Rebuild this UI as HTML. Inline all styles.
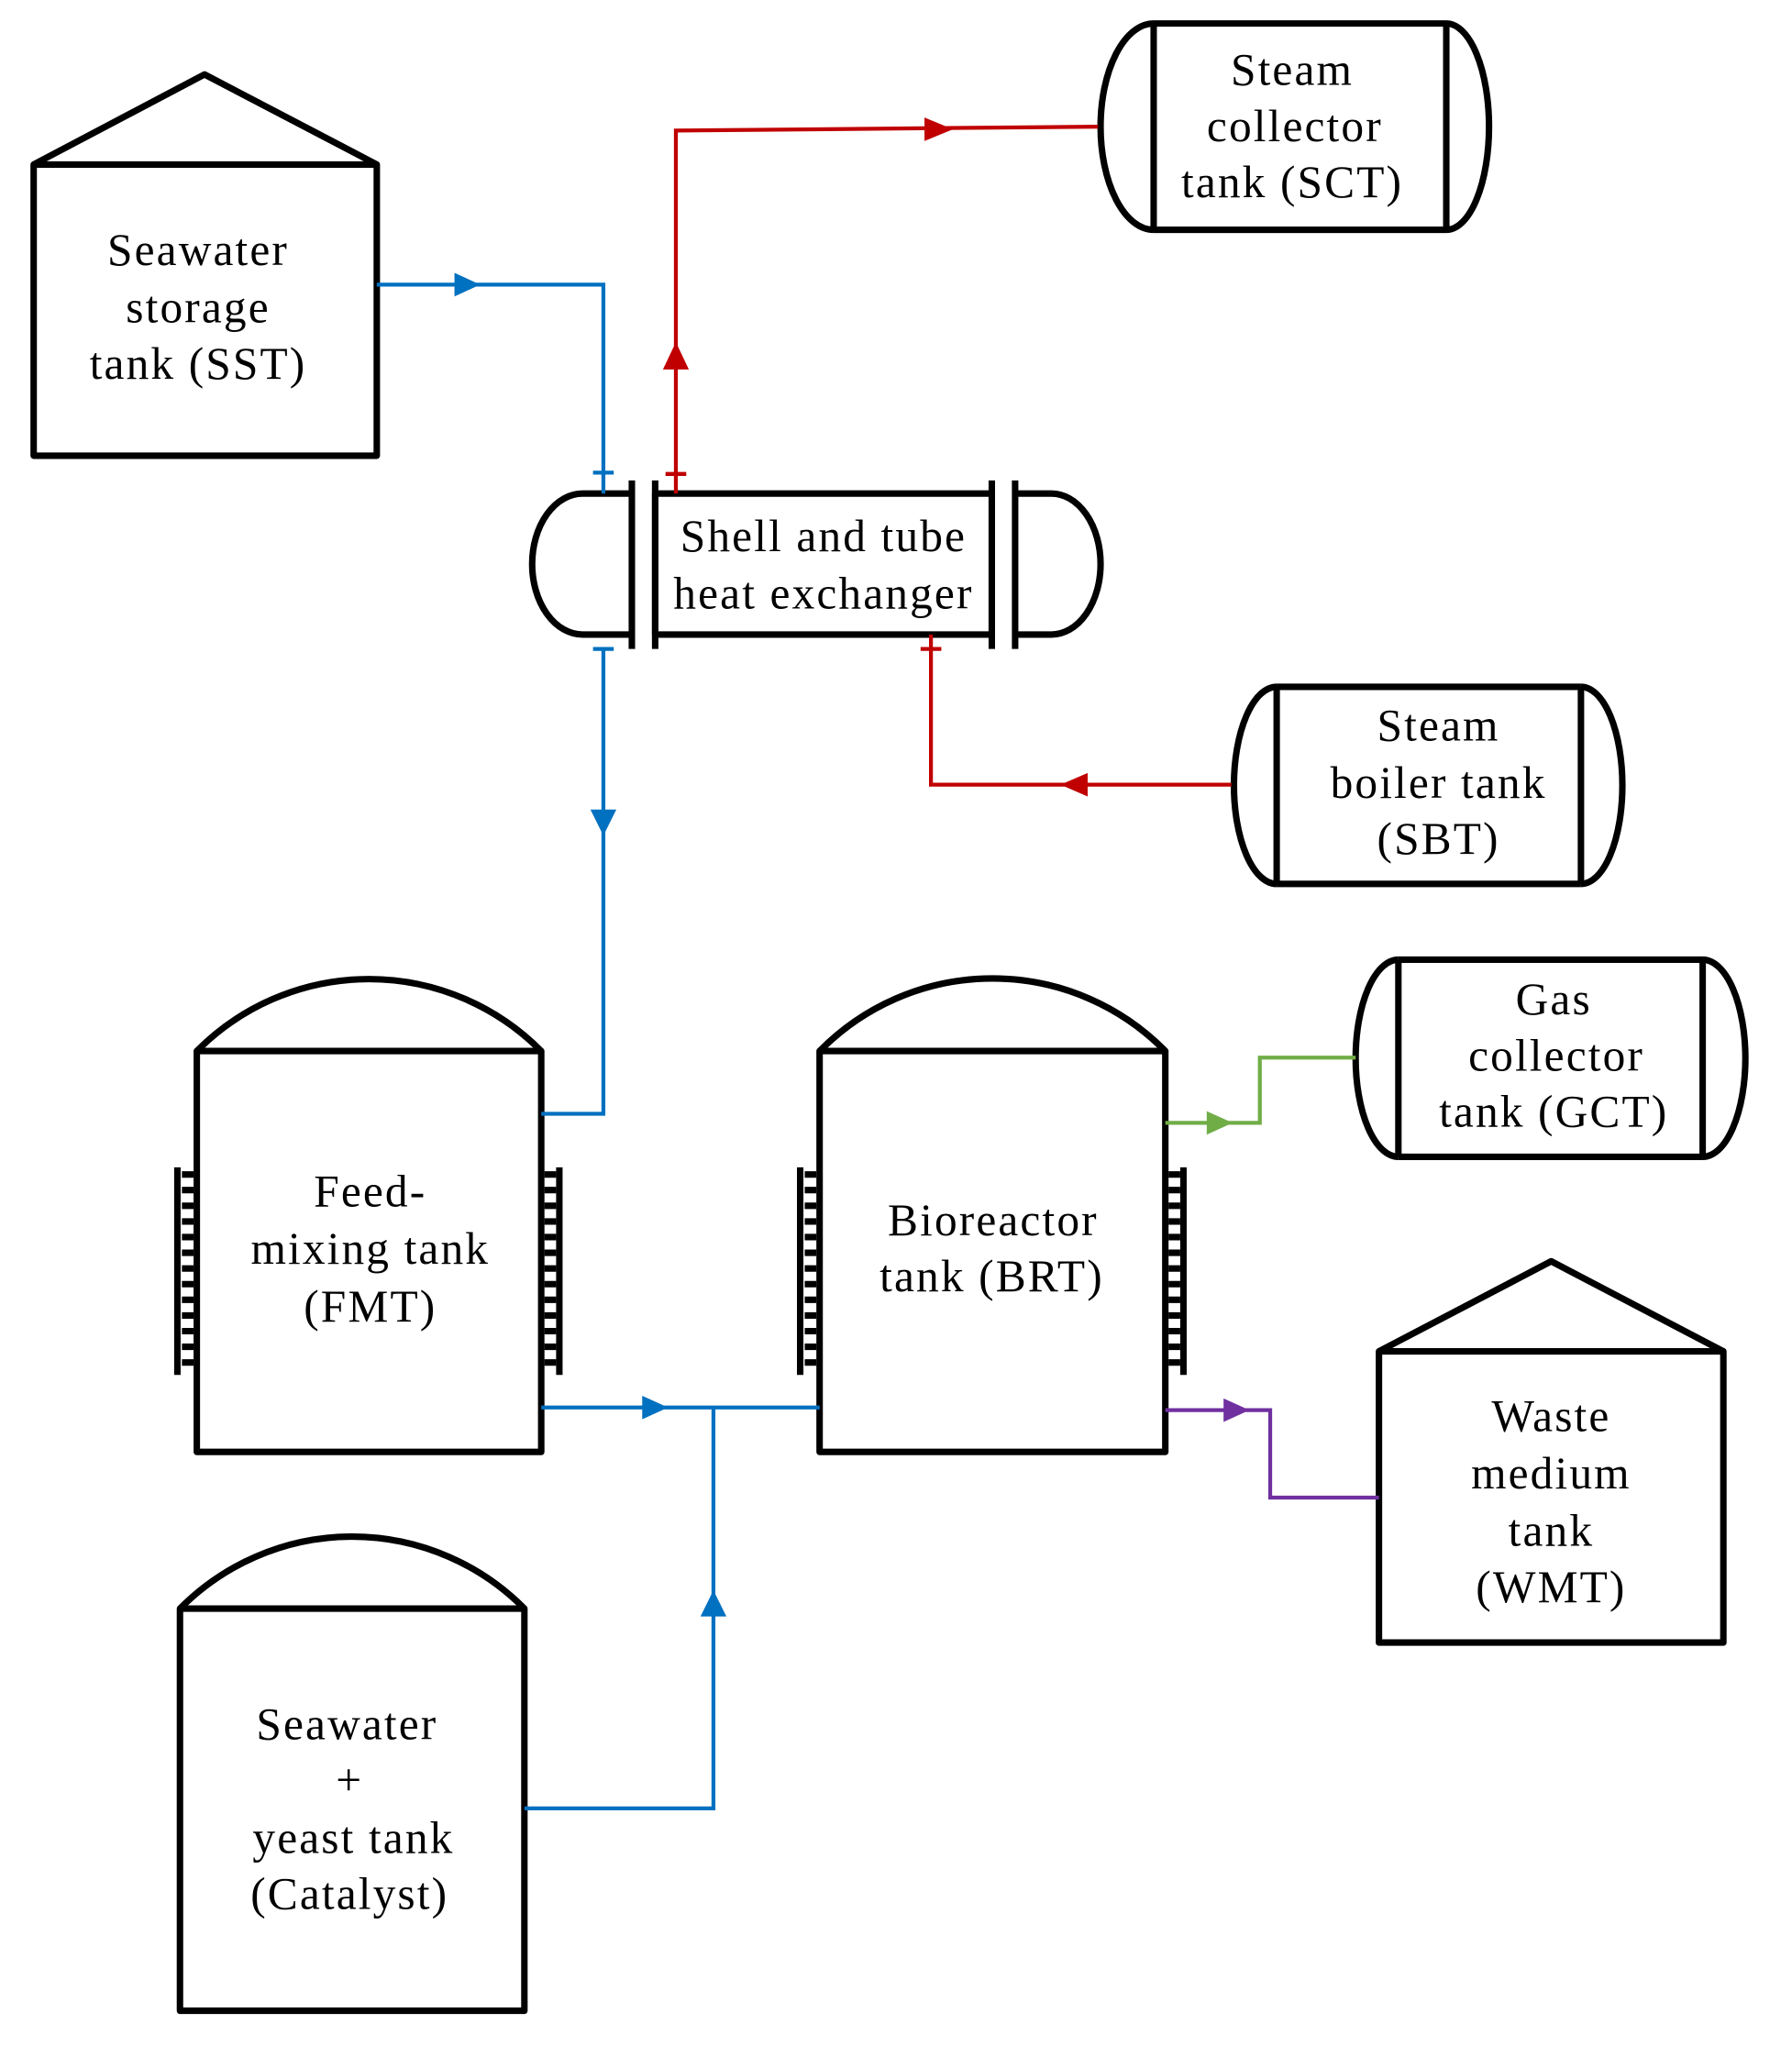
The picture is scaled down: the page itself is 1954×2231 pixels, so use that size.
<!DOCTYPE html>
<html><head><meta charset="utf-8"><style>html,body{margin:0;padding:0;background:#fff}svg{display:block}</style></head><body>
<svg width="1954" height="2231" viewBox="0 0 1384 1567" preserveAspectRatio="none" xmlns="http://www.w3.org/2000/svg">
<g fill="none" stroke="#000" stroke-width="5" stroke-linejoin="round">
<rect x="26" y="126" width="265" height="223"/>
<path d="M26,126 L158,57 L291,126"/>
<path d="M488,378 L450,378 A39,54 0 0 0 450,486 L488,486"/>
<path d="M784,378 L812,378 A38,54 0 0 1 812,486 L784,486"/>
<rect x="506" y="378" width="260" height="108"/>
<line x1="488" y1="368" x2="488" y2="497"/><line x1="506" y1="368" x2="506" y2="497"/>
<line x1="766" y1="368" x2="766" y2="497"/><line x1="784" y1="368" x2="784" y2="497"/>
<path d="M891,18 L1117,18 M891,176 L1117,176"/>
<path d="M891,18 A41,79 0 0 0 891,176"/><path d="M1117,18 A33,79 0 0 1 1117,176"/>
<line x1="891" y1="18" x2="891" y2="176"/><line x1="1117" y1="18" x2="1117" y2="176"/>
<path d="M986,526 L1221,526 M986,677 L1221,677"/>
<path d="M986,526 A33,75.5 0 0 0 986,677"/><path d="M1221,526 A32,75.5 0 0 1 1221,677"/>
<line x1="986" y1="526" x2="986" y2="677"/><line x1="1221" y1="526" x2="1221" y2="677"/>
<path d="M1080,735 L1315,735 M1080,886 L1315,886"/>
<path d="M1080,735 A33,75.5 0 0 0 1080,886"/><path d="M1315,735 A33,75.5 0 0 1 1315,886"/>
<line x1="1080" y1="735" x2="1080" y2="886"/><line x1="1315" y1="735" x2="1315" y2="886"/>
<rect x="152" y="805" width="266" height="307"/>
<path d="M152,805 A188,188 0 0 1 418,805"/>
<rect x="633" y="805" width="267" height="307"/>
<path d="M633,805 A188,188 0 0 1 900,805"/>
<rect x="139" y="1232" width="266" height="308"/>
<path d="M139,1232 A188,188 0 0 1 405,1232"/>
<rect x="1065" y="1035" width="266" height="223"/>
<path d="M1065,1035 L1198,966 L1331,1035"/>
</g>
<g stroke="#000">
<line x1="137" y1="894" x2="137" y2="1053" stroke-width="5"/>
<line x1="432" y1="894" x2="432" y2="1053" stroke-width="5"/>
<line x1="618" y1="894" x2="618" y2="1053" stroke-width="5"/>
<line x1="914" y1="894" x2="914" y2="1053" stroke-width="5"/>
<g stroke-width="9" stroke-dasharray="5,7">
<line x1="145" y1="897" x2="145" y2="1050"/><line x1="425" y1="897" x2="425" y2="1050"/>
<line x1="626" y1="897" x2="626" y2="1050"/><line x1="907" y1="897" x2="907" y2="1050"/>
</g></g>
<g fill="none" stroke-width="3">
<path d="M291,218 L466,218 L466,378 M466,497 L466,853 L418,853 M418,1078 L633,1078 M405,1385 L551,1385 L551,1078" stroke="#0070c0"/>
<path d="M458,362 L474,362 M458,497 L474,497" stroke="#0070c0"/>
<path d="M522,378 L522,100 L848,97 M951,601 L719,601 L719,486" stroke="#c00000"/>
<path d="M514,363 L530,363 M711,497 L727,497" stroke="#c00000"/>
<path d="M900,860 L973,860 L973,810 L1047,810" stroke="#70ad47"/>
<path d="M900,1080 L981,1080 L981,1147 L1065,1147" stroke="#7030a0"/>
</g>
<g>
<path d="M351,209 L371,218 L351,227Z" fill="#0070c0"/>
<path d="M456,620 L466,640 L476,620Z" fill="#0070c0"/>
<path d="M496,1069 L516,1078 L496,1087Z" fill="#0070c0"/>
<path d="M541,1238 L551,1218 L561,1238Z" fill="#0070c0"/>
<path d="M512,283 L522,262 L532,283Z" fill="#c00000"/>
<path d="M714,90 L736,99 L714,108Z" fill="#c00000"/>
<path d="M840,592 L819,601 L840,610Z" fill="#c00000"/>
<path d="M932,851 L952,860 L932,869Z" fill="#70ad47"/>
<path d="M945,1071 L965,1080 L945,1089Z" fill="#7030a0"/>
</g>
<g font-family="Liberation Serif, serif" font-size="35" letter-spacing="1.5" text-anchor="middle" fill="#000">
<text x="153" y="203">Seawater</text><text x="153" y="247">storage</text><text x="153" y="290">tank (SST)</text>
<text x="636" y="422">Shell and tube</text><text x="636" y="466">heat exchanger</text>
<text x="998" y="65">Steam</text><text x="1000" y="108">collector</text><text x="998" y="151">tank (SCT)</text>
<text x="1111" y="567">Steam</text><text x="1111" y="611">boiler tank</text><text x="1111" y="654">(SBT)</text>
<text x="1200" y="777">Gas</text><text x="1202" y="820">collector</text><text x="1200" y="863">tank (GCT)</text>
<text x="286" y="924">Feed-</text><text x="286" y="968">mixing tank</text><text x="286" y="1012">(FMT)</text>
<text x="767" y="946">Bioreactor</text><text x="766" y="989">tank (BRT)</text>
<text x="1198" y="1096">Waste</text><text x="1198" y="1140">medium</text><text x="1198" y="1184">tank</text><text x="1198" y="1227">(WMT)</text>
<text x="268" y="1332">Seawater</text><text x="270" y="1375">+</text><text x="273" y="1419">yeast tank</text><text x="270" y="1462">(Catalyst)</text>
</g>
</svg>
</body></html>
